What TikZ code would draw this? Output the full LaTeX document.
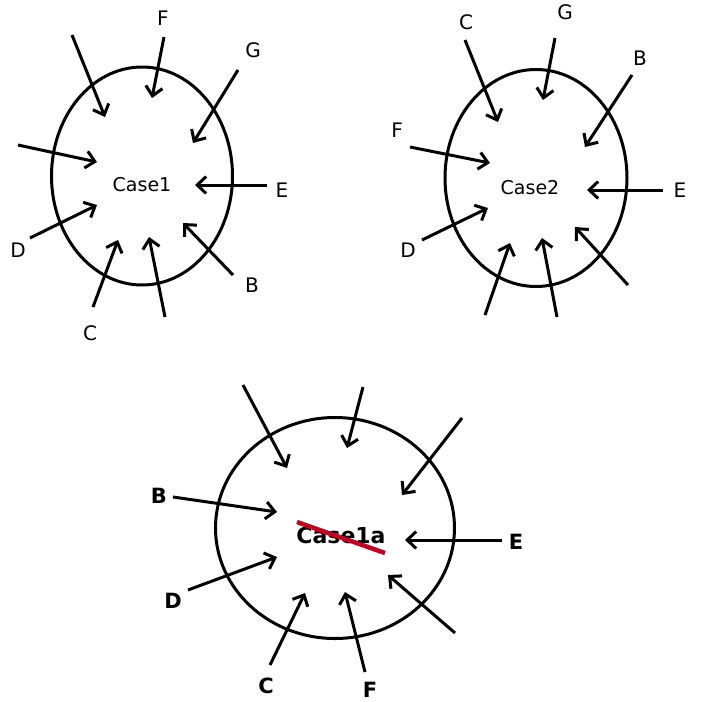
\documentclass[tikz,border=0pt]{standalone}
\usepackage{fontspec}
\setmainfont{DejaVu Sans}
\usetikzlibrary{arrows.meta,shapes.geometric}
\tikzset{ring/.style={draw,ellipse,line width=3pt,inner sep=0pt},
  inarr/.style={line width=3pt,-{Straight Barb[length=9pt,width=17pt]}},
  lab/.style={font=\fontsize{20}{20}\selectfont},
  bigl/.style={font=\bfseries\fontsize{21}{21}\selectfont}}

\begin{document}
\begin{tikzpicture}[x=1pt,y=-1pt]
  \useasboundingbox (0,0) rectangle (702,702);
  % first case, top left
  \node[ring,minimum width=181pt,minimum height=218pt] (ring1) at (142,176) {};
  \node[font=\fontsize{19}{19}\selectfont] (case1) at (142,185) {Case1};
  \foreach \n/\x/\y/\t in {aF/163/18/F, aG/253/50/G, aE/282/190/E,
      aD/18/250/D, aC/90/333/C, aB/252/285/B}
    \node[lab] (\n) at (\x,\y) {\t};
  \foreach \n/\xa/\ya/\xb/\yb in {a1/72/35/105/117, a2/164/37/152/98,
      a3/238/70/193/143, a4/18/145/97/162, a5/267/185/195/185,
      a6/30/238/97/205, a7/93/307/118/240, a8/165/317/149/237,
      a9/233/275/183/223} {
    \coordinate (\n-tail) at (\xa,\ya);
    \coordinate (\n-tip) at (\xb,\yb);
    \draw[inarr] (\n-tail) -- (\n-tip);
  }
  % second case, top right
  \node[ring,minimum width=182pt,minimum height=217pt] (ring2) at (536,178) {};
  \node[font=\fontsize{19}{19}\selectfont] (case2) at (530,188) {Case2};
  \foreach \n/\x/\y/\t in {bC/466/22/C, bG/565/12/G, bB/640/58/B,
      bF/397/130/F, bE/680/190/E, bD/408/250/D}
    \node[lab] (\n) at (\x,\y) {\t};
  \foreach \n/\xa/\ya/\xb/\yb in {b1/465/40/498/122, b2/555/38/543/100,
      b3/632/75/585/147, b4/410/147/490/163, b5/663/190/587/190,
      b6/422/240/488/208, b7/485/315/510/243, b8/557/317/542/238,
      b9/628/285/575/227} {
    \coordinate (\n-tail) at (\xa,\ya);
    \coordinate (\n-tip) at (\xb,\yb);
    \draw[inarr] (\n-tail) -- (\n-tip);
  }
  % third case, bottom, name struck out in red
  \node[ring,minimum width=239pt,minimum height=221pt] (ring3) at (335,528) {};
  \node[font=\bfseries\fontsize{22}{22}\selectfont] (case3) at (341,535) {Case1a};
  \coordinate (cut-a) at (297,522);
  \coordinate (cut-b) at (385,553);
  \draw[red!85!blue!90!black,line width=4.5pt] (cut-a) -- (cut-b);
  \foreach \n/\x/\y/\t in {cB/159/496/B, cE/516/542/E, cD/173/601/D,
      cC/266/686/C, cF/370/690/F}
    \node[bigl] (\n) at (\x,\y) {\t};
  \foreach \n/\xa/\ya/\xb/\yb in {c1/243/385/287/468, c2/363/387/347/448,
      c3/462/418/402/495, c4/173/497/277/512, c5/502/540/405/540,
      c6/188/590/277/557, c7/270/665/305/593, c8/365/672/345/592,
      c9/455/633/388/575} {
    \coordinate (\n-tail) at (\xa,\ya);
    \coordinate (\n-tip) at (\xb,\yb);
    \draw[inarr] (\n-tail) -- (\n-tip);
  }
\end{tikzpicture}
\end{document}
